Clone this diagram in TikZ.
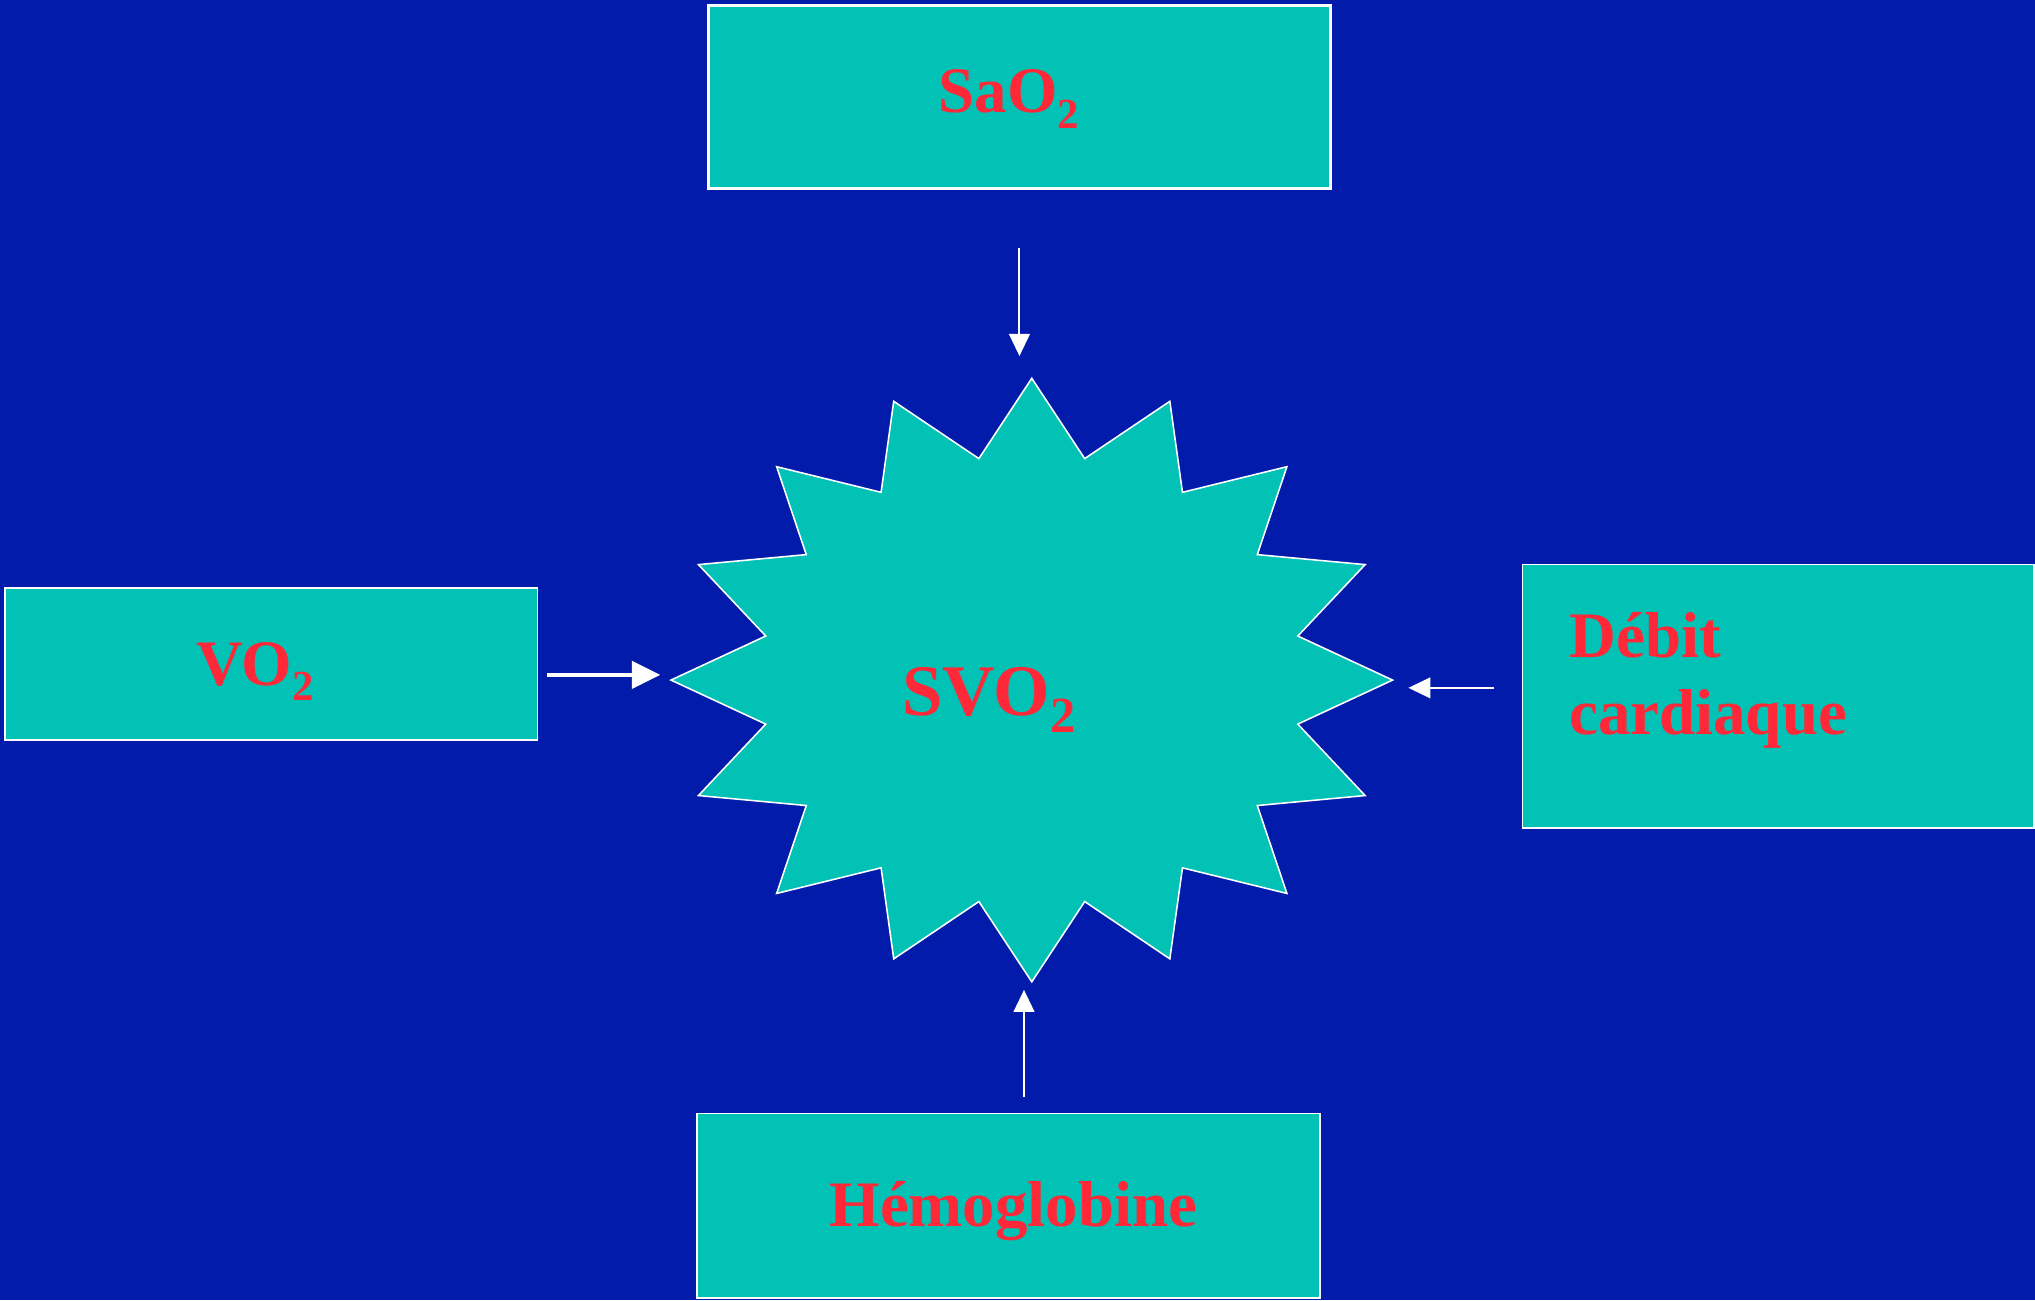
\documentclass[tikz,border=0pt]{standalone}
\usepackage{fontspec}
\setmainfont{Liberation Serif}
\usetikzlibrary{arrows.meta}
\definecolor{slideblue}{RGB}{3,27,170}
\definecolor{boxteal}{RGB}{2,193,181}
\definecolor{labelred}{RGB}{255,40,56}
\newcommand{\subtwo}[1][33]{\raisebox{-0.24em}{\fontsize{#1}{#1}\selectfont 2}}

\begin{document}
\begin{tikzpicture}[x=1pt,y=-1pt,
	box/.style={draw=white,line width=1.2pt,fill=boxteal,inner sep=0pt},
	lbl/.style={text=labelred,font=\fontsize{50}{59.4}\selectfont\bfseries,inner sep=0pt,align=left},
	arr/.style={white,line width=1.5pt,-{Triangle[length=17pt,width=16pt]}},
	arrthick/.style={white,line width=3pt,-{Triangle[length=22pt,width=21pt]}}]
	% slide
	\fill[slideblue] (0,0) rectangle (1568,1002);
	\useasboundingbox (0,0) rectangle (1568,1002);

	% boxes
	\node[box,line width=2.3pt,minimum width=479pt,minimum height=141pt] (sao) at (785.5,74.5) {};
	\node[box,minimum width=410pt,minimum height=117pt] (vo) at (209,511.5) {};
	\node[box,minimum width=394pt,minimum height=203pt] (deb) at (1370,536.5) {};
	\node[box,minimum width=480pt,minimum height=142pt] (hem) at (777,929) {};

	% star, 16 points
	\begin{scope}[shift={(795,524)}]
		\draw[white,line width=1.2pt,fill=boxteal] (90:278 and 232.5)
			\foreach \a in {0,22.5,...,337.5} { -- ({101.25+\a}:209 and 174) -- ({112.5+\a}:278 and 232.5) } -- cycle;
	\end{scope}
	\node[minimum width=556pt,minimum height=465pt,inner sep=0pt] (svo) at (795,524) {};

	% labels
	\node[lbl,anchor=base west] (saotxt) at (723,87) {SaO\subtwo};
	\node[lbl,anchor=base west] (votxt) at (151,528) {VO\subtwo};
	\node[lbl,anchor=base west] (debtxt) at (1209,566) {Débit\\cardiaque};
	\node[lbl,anchor=base west] (hemtxt) at (639,945) {Hémoglobine};
	\node[lbl,font=\fontsize{56}{60}\selectfont\bfseries,anchor=base west] (svotxt) at (695,551) {SVO\subtwo[39]};

	% arrows
	\draw[arr,shorten <=45pt,shorten >=17pt] (sao.south) -- (sao.south |- svo.north);
	\draw[arrthick,shorten <=7pt,shorten >=8pt] ([yshift=-8.5pt]vo.east) -- ([yshift=-8.5pt]vo.east -| svo.west);
	\draw[arr,shorten <=21pt,shorten >=12pt] ([yshift=6.5pt]deb.west) -- ([yshift=6.5pt]deb.west -| svo.east);
	\draw[arr,shorten <=12pt,shorten >=6pt] ([xshift=12pt]hem.north) -- ([xshift=12pt]hem.north |- svo.south);
\end{tikzpicture}
\end{document}
